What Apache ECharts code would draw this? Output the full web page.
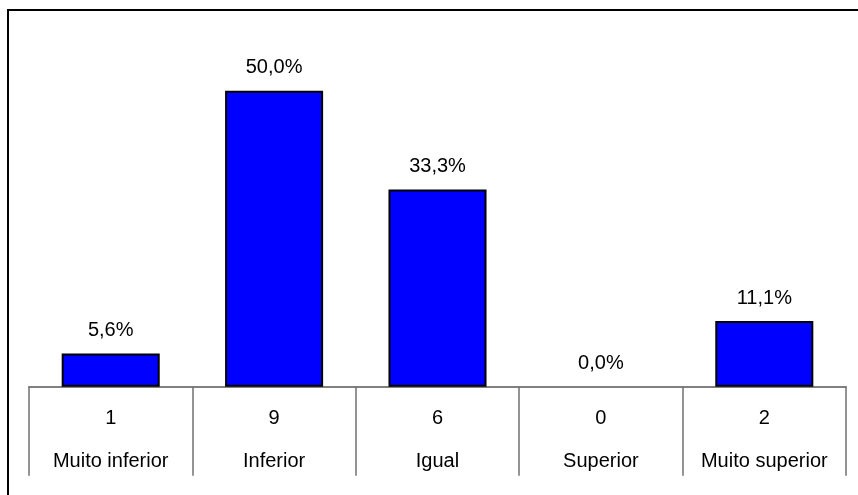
<!DOCTYPE html>
<html>
<head>
<meta charset="utf-8">
<script src="https://cdn.jsdelivr.net/npm/echarts@6/dist/echarts.min.js"></script>
<style>
html,body{margin:0;padding:0;background:#fff;}
#chart{width:858px;height:495px;}
</style>
</head>
<body>
<div id="chart"></div>
<script>
var categories = ['Muito inferior', 'Inferior', 'Igual', 'Superior', 'Muito superior'];
var counts = [1, 9, 6, 0, 2];
var percents = [5.6, 50.0, 33.3, 0.0, 11.1];

var FONT = '"Liberation Sans", Arial, sans-serif';
var chart = echarts.init(document.getElementById('chart'));

var data = percents.map(function (v) {
  return v === 0 ? { value: v, itemStyle: { borderWidth: 0, opacity: 0 } } : { value: v };
});

chart.setOption({
  animation: false,
  backgroundColor: '#ffffff',
  graphic: [{
    type: 'rect',
    shape: { x: 8, y: 10, width: 900, height: 600 },
    style: { fill: 'none', stroke: '#000000', lineWidth: 2 },
    silent: true
  }],
  grid: { left: 29, right: 12, top: 31.5, bottom: 108.3 },
  xAxis: {
    type: 'category',
    data: categories,
    axisLine: { show: true, lineStyle: { color: '#808080', width: 2 } },
    axisTick: { show: true, length: 89, lineStyle: { color: '#707070', width: 1.5 } },
    axisLabel: {
      interval: 0,
      margin: 10.5,
      formatter: function (value, idx) {
        return '{a|' + counts[idx] + '}\n{b|' + value + '}';
      },
      rich: {
        a: { fontFamily: FONT, fontSize: 20, color: '#000', lineHeight: 43, align: 'center' },
        b: { fontFamily: FONT, fontSize: 20, color: '#000', lineHeight: 43, align: 'center' }
      }
    }
  },
  yAxis: {
    type: 'value',
    min: 0,
    max: 60,
    show: false,
    splitLine: { show: false }
  },
  series: [{
    type: 'bar',
    data: data,
    barWidth: '60%',
    itemStyle: { color: '#0000ff', borderColor: '#000000', borderWidth: 2 },
    label: {
      show: true,
      position: 'top',
      distance: 13,
      fontFamily: FONT,
      fontSize: 20,
      color: '#000',
      opacity: 1,
      formatter: function (p) {
        return p.value.toFixed(1).replace('.', ',') + '%';
      }
    }
  }]
});
</script>
</body>
</html>
